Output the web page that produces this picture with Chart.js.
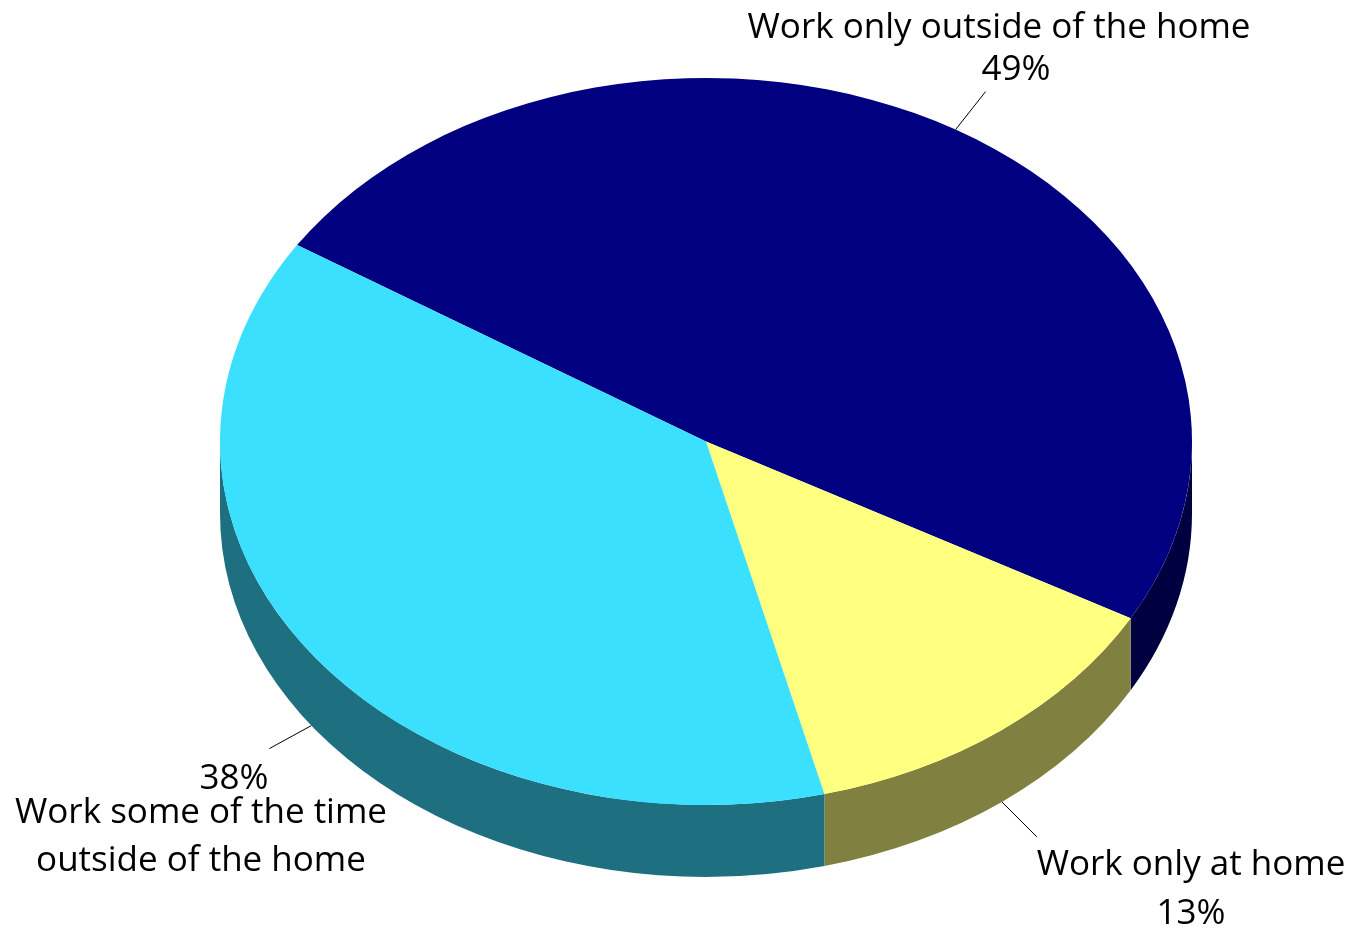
<!DOCTYPE html>
<html>
<head>
<meta charset="utf-8">
<title>Work location</title>
<script src="https://cdn.jsdelivr.net/npm/chart.js@4.4.1/dist/chart.umd.min.js"></script>
<style>
  html, body { margin: 0; padding: 0; background: #fff; }
  #pie { display: block; }
</style>
</head>
<body>
<canvas id="pie" width="1352" height="929"></canvas>
<script>
// slices, clockwise from the upper-left cut
const categories = ['Work only outside of the home', 'Work only at home', ['Work some of the time', 'outside of the home']];
const shares = [49, 13, 38];
const sliceColors = ['#000080', '#FFFF80', '#3CE0FF'];

// tilted disc: screen ellipse and wall height
const RX = 486, RY = 363.5, CY = 441.5, DEPTH = 72;

// leader offsets and text anchors for each slice label
const labelSpots = [
  { tick: [30, -38], pct: [1016, 70], name: [[999, 28]] },
  { tick: [35, 35], pct: [1191, 914], name: [[1191, 865]] },
  { tick: [-42, 23], pct: [234, 779], name: [[201, 813], [201, 861]] }
];

function shade(hex, f) {
  const n = parseInt(hex.slice(1), 16);
  const r = Math.round(((n >> 16) & 255) * f);
  const g = Math.round(((n >> 8) & 255) * f);
  const b = Math.round((n & 255) * f);
  return 'rgb(' + r + ',' + g + ',' + b + ')';
}

const pie3d = {
  id: 'pie3d',
  beforeDatasetsDraw(chart) {
    const ctx = chart.ctx;
    const arcs = chart.getDatasetMeta(0).data;
    const cx = arcs[0].x;
    const r0 = arcs[0].outerRadius;

    // outer walls of the front half
    arcs.forEach(function(arc, i) {
      for (let k = -1; k <= 2; k++) {
        const a1 = Math.max(arc.startAngle, k * 2 * Math.PI);
        const a2 = Math.min(arc.endAngle, k * 2 * Math.PI + Math.PI);
        if (a2 <= a1) continue;
        ctx.beginPath();
        ctx.ellipse(cx, CY, RX, RY, 0, a1, a2);
        ctx.ellipse(cx, CY + DEPTH, RX, RY, 0, a2, a1, true);
        ctx.closePath();
        ctx.fillStyle = shade(sliceColors[i], 0.5);
        ctx.fill();
      }
    });

    // squash the round pie onto the top face
    ctx.save();
    ctx.translate(cx, CY);
    ctx.scale(RX / r0, RY / r0);
    ctx.translate(-arcs[0].x, -arcs[0].y);
  },
  afterDatasetsDraw(chart) {
    const ctx = chart.ctx;
    ctx.restore();

    const arcs = chart.getDatasetMeta(0).data;
    const cx = arcs[0].x;
    ctx.font = '35px "Open Sans", sans-serif';
    ctx.fillStyle = '#000';
    ctx.textAlign = 'center';
    ctx.textBaseline = 'middle';

    arcs.forEach(function(arc, i) {
      const mid = (arc.startAngle + arc.endAngle) / 2;
      const sx = cx + RX * Math.cos(mid);
      let sy = CY + RY * Math.sin(mid);
      if (Math.sin(mid) > 0) sy += DEPTH;
      const spot = labelSpots[i];

      ctx.beginPath();
      ctx.moveTo(sx, sy);
      ctx.lineTo(sx + spot.tick[0], sy + spot.tick[1]);
      ctx.strokeStyle = '#000';
      ctx.lineWidth = 1;
      ctx.stroke();

      const names = [].concat(categories[i]);
      names.forEach(function(t, j) {
        ctx.fillText(t, spot.name[j][0], spot.name[j][1]);
      });
      ctx.fillText(shares[i] + '%', spot.pct[0], spot.pct[1]);
    });
  }
};

new Chart(document.getElementById('pie'), {
  type: 'pie',
  data: {
    labels: categories,
    datasets: [{
      data: shares,
      backgroundColor: sliceColors,
      borderWidth: 0,
      clip: false
    }]
  },
  options: {
    responsive: false,
    animation: false,
    devicePixelRatio: 1,
    rotation: 302.7,
    layout: { padding: { left: 220, right: 160, top: 0, bottom: 0 } },
    plugins: {
      legend: { display: false },
      tooltip: { enabled: false }
    }
  },
  plugins: [pie3d]
});
</script>
</body>
</html>
